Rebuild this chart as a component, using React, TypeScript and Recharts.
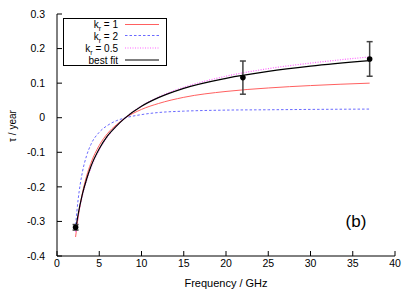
import React from 'react';
import { ComposedChart, Line, Scatter, ErrorBar, XAxis, YAxis } from 'recharts';

const frequencies = [2.2, 2.5, 3, 3.5, 4, 5, 6, 7, 8, 10, 12, 15, 20, 25, 30, 37];
const kr1 = [-0.345, -0.288, -0.219, -0.169, -0.132, -0.08, -0.045, -0.021, -0.002, 0.024, 0.041, 0.059, 0.076, 0.086, 0.093, 0.1];
const kr2 = [-0.31, -0.237, -0.158, -0.11, -0.078, -0.042, -0.022, -0.009, -0.001, 0.009, 0.015, 0.019, 0.022, 0.023, 0.024, 0.025];
const kr05 = [-0.33, -0.285, -0.226, -0.182, -0.146, -0.093, -0.054, -0.025, -0.002, 0.034, 0.06, 0.088, 0.12, 0.142, 0.158, 0.176];
const bestFit = [-0.325, -0.28, -0.222, -0.178, -0.142, -0.09, -0.052, -0.025, -0.002, 0.033, 0.058, 0.085, 0.114, 0.134, 0.149, 0.165];

const measFreq = [2.2, 22, 37];
const measTau = [-0.317, 0.116, 0.17];
const measErr = [0.008, 0.048, 0.05];

const xTicks = [0, 5, 10, 15, 20, 25, 30, 35, 40];
const yTicks = [-0.4, -0.3, -0.2, -0.1, 0, 0.1, 0.2, 0.3];

const legendLabels = ['1', '2', '0.5'];

const curveData = frequencies.map((f, i) => ({ f, k1: kr1[i], k2: kr2[i], k05: kr05[i], fit: bestFit[i] }));
const pointData = measFreq.map((f, i) => ({ f, tau: measTau[i], err: measErr[i] }));

const FONT = '"Liberation Sans", Arial, sans-serif';
const fmtY = (v: number) => String(Math.round(v * 10) / 10);

const Dot = (props: any) => <circle cx={props.cx} cy={props.cy} r={2.8} fill="#000" />;

export default function App() {
  return (
    <div style={{ position: 'absolute', left: 0, top: 0, width: 415, height: 291, background: '#fff' }}>
      <ComposedChart width={415} height={291} data={curveData} margin={{ top: 14, right: 20, bottom: 0, left: 0 }} style={{ fontFamily: FONT }}>
        <XAxis xAxisId="b" dataKey="f" type="number" domain={[0, 40]} ticks={xTicks} height={35} orientation="bottom"
          tickSize={-5} tickMargin={9} stroke="#000" tick={{ fill: '#000', fontSize: 10.5, fontFamily: FONT }} interval={0} />
        <XAxis xAxisId="t" dataKey="f" type="number" domain={[0, 40]} ticks={xTicks} height={0} orientation="top"
          tickSize={-5} stroke="#000" tickFormatter={() => ''} interval={0} />
        <YAxis yAxisId="l" type="number" domain={[-0.4, 0.3]} ticks={yTicks} width={57} orientation="left"
          tickSize={-5} tickMargin={17} stroke="#000" tickFormatter={fmtY} tick={{ fill: '#000', fontSize: 10.5, fontFamily: FONT }} interval={0} />
        <YAxis yAxisId="r" type="number" domain={[-0.4, 0.3]} ticks={yTicks} width={0} orientation="right"
          tickSize={-5} stroke="#777" strokeWidth={1.5} tickFormatter={() => ''} interval={0} />
        <Line xAxisId="b" yAxisId="l" dataKey="k1" type="monotone" stroke="#ff6060" strokeWidth={1} dot={false} isAnimationActive={false} />
        <Line xAxisId="b" yAxisId="l" dataKey="k2" type="monotone" stroke="#6a6aff" strokeWidth={1} strokeDasharray="2.5 2" dot={false} isAnimationActive={false} />
        <Line xAxisId="b" yAxisId="l" dataKey="k05" type="monotone" stroke="#ff66ff" strokeWidth={1.2} strokeDasharray="1 1.5" dot={false} isAnimationActive={false} />
        <Line xAxisId="b" yAxisId="l" dataKey="fit" type="monotone" stroke="#000" strokeWidth={1.2} dot={false} isAnimationActive={false} />
        <Scatter xAxisId="b" yAxisId="l" data={pointData} dataKey="tau" fill="#000" shape={Dot} isAnimationActive={false}>
          <ErrorBar dataKey="err" direction="y" width={3} stroke="#444" strokeWidth={1.5} />
        </Scatter>
      </ComposedChart>
      <svg width={415} height={291} style={{ position: 'absolute', left: 0, top: 0, pointerEvents: 'none' }} fontFamily={FONT}>
        <text x={12} y={126} fontSize={10} fill="#000" textAnchor="middle" dominantBaseline="central" transform="rotate(-90 12 126)">τ / year</text>
        <text x={226} y={287} fontSize={11} fill="#000" textAnchor="middle">Frequency / GHz</text>
        <text x={356} y={227} fontSize={17} fill="#000" textAnchor="middle">(b)</text>
        <rect x={63.5} y={18.5} width={103} height={47} fill="#fff" stroke="#000" strokeWidth={1} />
        {legendLabels.map((lab, i) => (
          <text key={lab} x={118} y={27.5 + i * 12} fontSize={10} fill="#000" textAnchor="end">
            k<tspan fontSize={7} baselineShift="-3">r</tspan>{` = ${lab}`}
          </text>
        ))}
        <text x={118} y={63.5} fontSize={10} fill="#000" textAnchor="end">best fit</text>
        <line x1={125} x2={159} y1={24.5} y2={24.5} stroke="#ff6060" strokeWidth={1} />
        <line x1={125} x2={159} y1={35.5} y2={35.5} stroke="#6a6aff" strokeWidth={1} strokeDasharray="2.5 2" />
        <line x1={125} x2={159} y1={48} y2={48} stroke="#ff66ff" strokeWidth={1.2} strokeDasharray="1 1.5" />
        <line x1={125} x2={159} y1={60} y2={60} stroke="#000" strokeWidth={1.2} />
      </svg>
    </div>
  );
}
